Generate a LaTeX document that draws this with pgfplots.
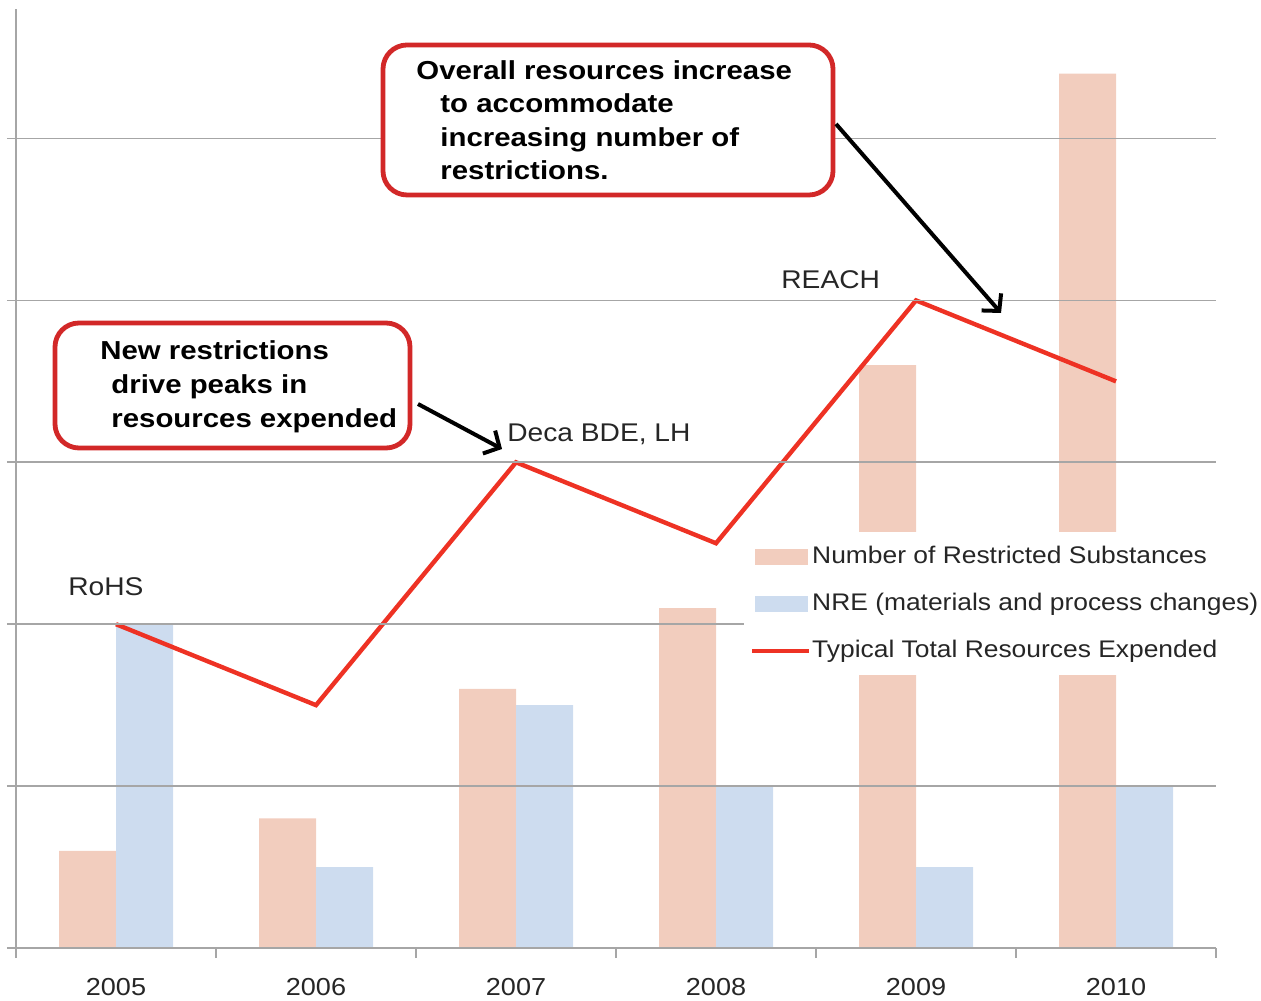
\documentclass[border=0pt]{standalone}
\usepackage{fontspec}
\setmainfont{Liberation Sans}[FakeStretch=1.1]
\newfontfamily\boxfont{Liberation Sans}[FakeStretch=1.13]
\usepackage{pgfplots}
\usepackage{pgfplotstable}
\pgfplotsset{compat=1.18}
\usetikzlibrary{arrows.meta}
\definecolor{barorange}{HTML}{F2CDBE}
\definecolor{barblue}{HTML}{CDDCEF}
\definecolor{linered}{HTML}{EE3224}
\definecolor{boxred}{HTML}{D22828}
\definecolor{gridgray}{HTML}{A6A6A6}
\definecolor{txt}{HTML}{262626}

\pgfplotstableread{
x sub nre total
0 0.6 2.0 2.0
1 0.8 0.5 1.5
2 1.6 1.5 3.0
3 2.1 1.0 2.5
4 3.6 0.5 4.0
5 5.4 1.0 3.5
}\data

\begin{document}
\begin{tikzpicture}
\path[use as bounding box] (0,0) rectangle (630.5pt,500pt);
\begin{axis}[
  at={(8pt,26pt)}, anchor=south west,
  scale only axis, width=600pt, height=469.5pt,
  xmin=-0.5, xmax=5.5, ymin=0, ymax=5.8,
  axis lines=left, axis line style={-, draw=gridgray, line width=0.9pt},
  axis on top,
  ytick={0,...,5}, yticklabels={},
  xtick={0,...,5}, xticklabels={2005,2006,2007,2008,2009,2010},
  minor xtick={-0.5,0.5,...,5.5},
  tick align=outside, major tick length=4.5pt, minor tick length=5pt,
  tick style={draw=gridgray, line width=0.9pt},
  major x tick style={draw=none},
  ymajorgrids, grid style={draw=gridgray, line width=0.9pt},
  xticklabel style={font=\fontsize{12.3}{14}\selectfont, text=txt, yshift=-7pt},
  legend style={at={(0.6065,0.443)}, anchor=north west, draw=none, fill=white,
    inner xsep=3pt, inner ysep=6pt, row sep=11pt,
    font=\fontsize{12}{14}\selectfont, text=txt,
    nodes={inner sep=0.5pt, text height=9pt, text depth=2.5pt},
    legend cell align=left},
]
\addplot[ybar, bar width=28.5pt, bar shift=-14.25pt, fill=barorange, draw=none,
  legend image code/.code={\fill[barorange] (0pt,-4pt) rectangle (26.5pt,4pt);}]
  table[x=x, y=sub]{\data};
\addlegendentry{Number of Restricted Substances}
\addplot[ybar, bar width=28.5pt, bar shift=14.25pt, fill=barblue, draw=none,
  legend image code/.code={\fill[barblue] (0pt,-4pt) rectangle (26.5pt,4pt);}]
  table[x=x, y=nre]{\data};
\addlegendentry{NRE (materials and process changes)}
\addplot[linered, line width=2.2pt, mark=none,
  legend image code/.code={\draw[linered, line width=2pt] (-1.5pt,0pt) -- (27pt,0pt);}]
  table[x=x, y=total]{\data};
\addlegendentry{Typical Total Resources Expended}
\end{axis}

\begin{scope}[shift={(0pt,500pt)}, x=0.5pt, y=-0.5pt]
  % labels
  \node[anchor=base west, inner sep=0pt, text=txt, font=\fontsize{12.8}{15}\selectfont] at (68,596) {RoHS};
  \node[anchor=base west, inner sep=0pt, text=txt, font=\fontsize{12.8}{15}\selectfont] at (507,442) {Deca BDE, LH};
  \node[anchor=base west, inner sep=0pt, text=txt, font=\fontsize{12.8}{15}\selectfont] at (781,289) {REACH};
  % box 1
  \draw[boxred, line width=2.4pt, rounded corners=12pt, fill=white] (383,45) rectangle (833,195);
  \begin{scope}[every node/.style={anchor=base west, inner sep=0pt, font=\boxfont\bfseries\fontsize{13}{16}\selectfont}]
    \node at (416,80) {Overall resources increase};
    \node at (440,113) {to accommodate};
    \node at (440,147) {increasing number of};
    \node at (440,180) {restrictions.};
  \end{scope}
  % box 2
  \draw[boxred, line width=2.4pt, rounded corners=12pt, fill=white] (55,323) rectangle (410,448);
  \begin{scope}[every node/.style={anchor=base west, inner sep=0pt, font=\boxfont\bfseries\fontsize{13}{16}\selectfont}]
    \node at (100,360) {New restrictions};
    \node at (111,394) {drive peaks in};
    \node at (111,428) {resources expended};
  \end{scope}
  % arrows
  \draw[line width=2pt, -{Straight Barb[length=6pt,width=13pt]}] (836,124) -- (1001,313);
  \draw[line width=2pt, -{Straight Barb[length=6pt,width=13pt]}] (418,404) -- (502,449);
\end{scope}
\end{tikzpicture}
\end{document}
